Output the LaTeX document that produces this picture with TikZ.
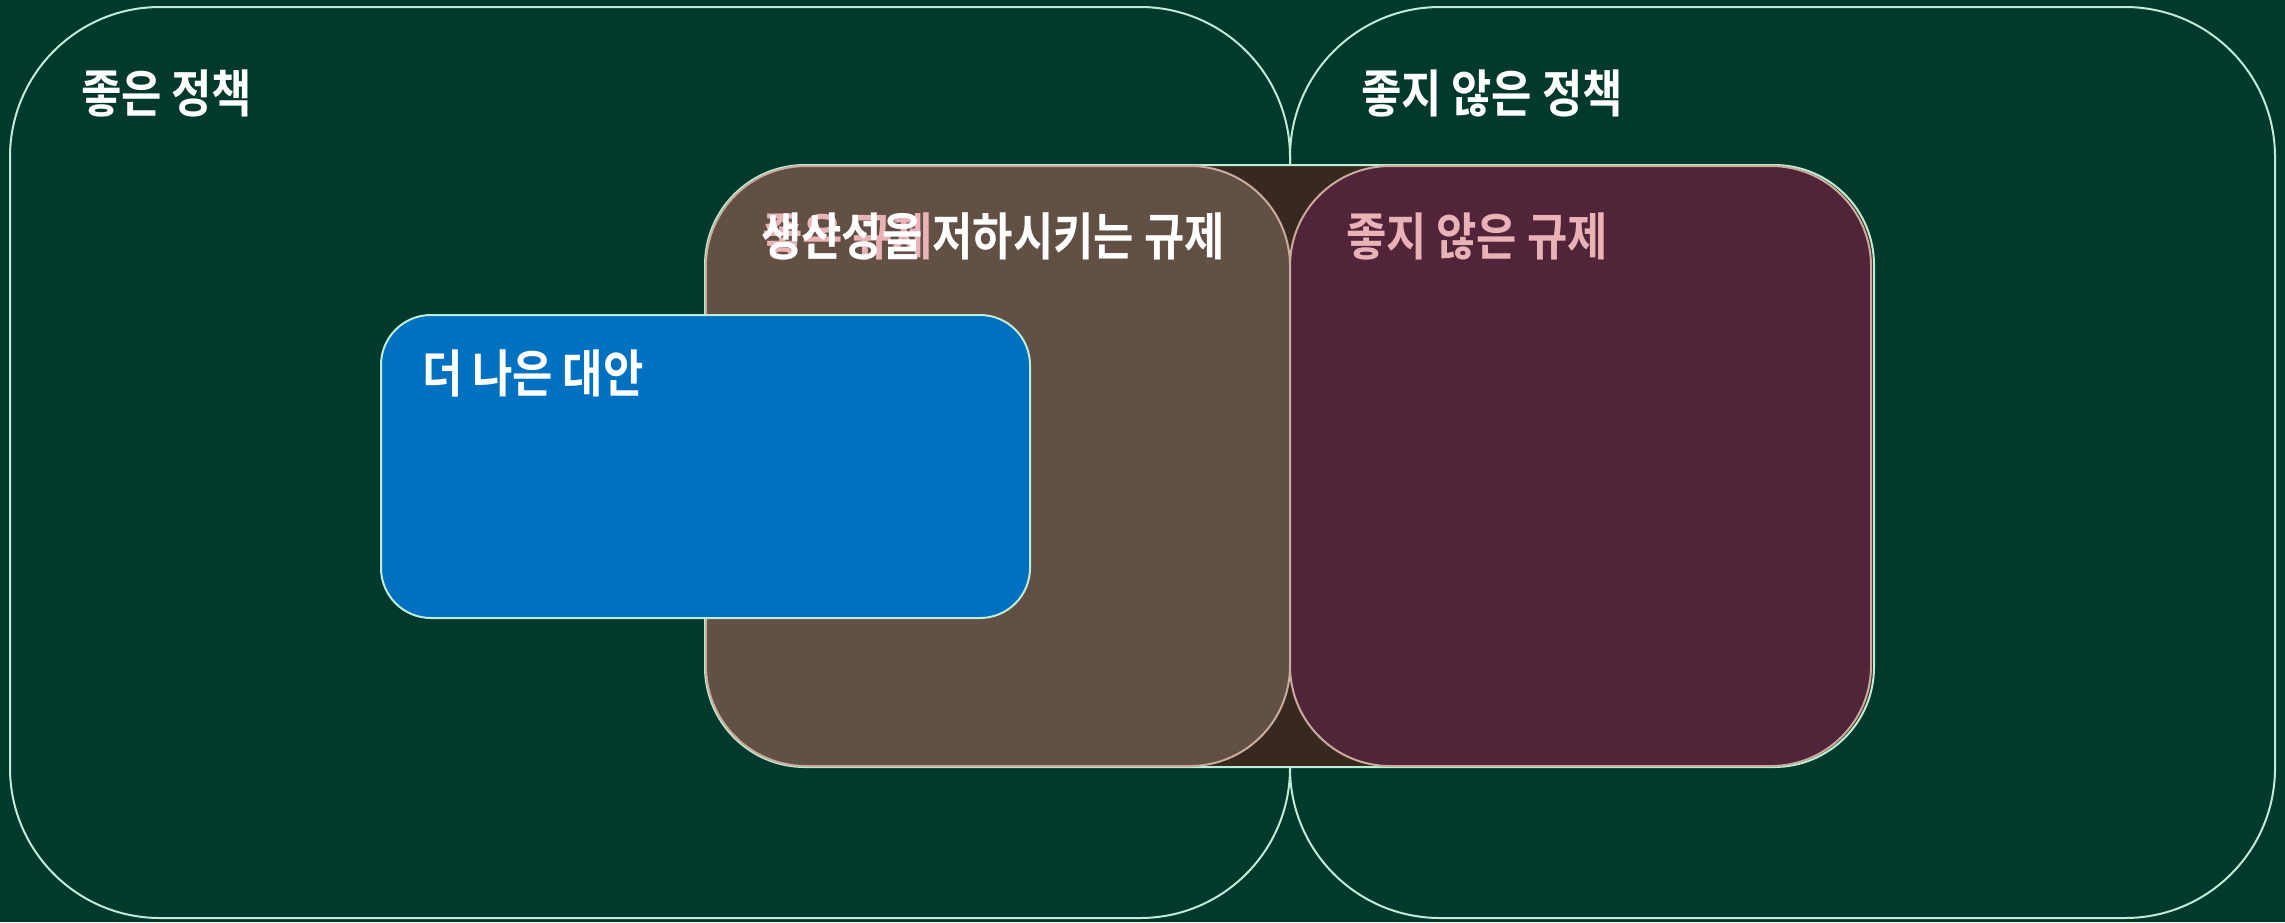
\documentclass[tikz,border=0pt]{standalone}
\usepackage{fontspec}
\newfontfamily\kr[FakeStretch=0.86,BoldFont={Noto Sans CJK KR Bold}]{Noto Sans CJK KR}
\definecolor{bg}{RGB}{1,58,45}
\definecolor{mint}{RGB}{190,236,214}
\definecolor{brownfill}{RGB}{99,80,69}
\definecolor{darkbrown}{RGB}{57,40,32}
\definecolor{plum}{RGB}{82,36,58}
\definecolor{tan}{RGB}{200,172,156}
\definecolor{bluefill}{RGB}{0,112,192}
\definecolor{pinktext}{RGB}{232,178,182}
\begin{document}
\begin{tikzpicture}[x=0.5pt,y=-0.5pt,
  lbl/.style={anchor=base west,inner sep=0pt,outer sep=0pt,font=\kr\bfseries\fontsize{25.5}{30}\selectfont},
  whitelbl/.style={lbl,text=white},
  pinklbl/.style={lbl,text=pinktext},
  bigset/.style={draw=mint,line width=1pt,rounded corners=75pt},
  subset/.style={draw=tan,line width=1pt,rounded corners=50pt}]
\fill[bg] (0,0) rectangle (2285,922);
\useasboundingbox (0,0) rectangle (2285,922);
% big sets
\draw[bigset] (10,7) rectangle (1290,918);
\draw[bigset] (1290,7) rectangle (2275,918);
% regulations
\draw[fill=darkbrown,draw=mint,line width=1pt,rounded corners=50pt] (705,165) rectangle (1874,767);
\draw[subset,fill=brownfill] (706,166) rectangle (1290,766);
\draw[subset,fill=plum] (1290,166) rectangle (1871,766);
% better alternative
\draw[fill=bluefill,draw=mint,line width=1pt,rounded corners=25pt] (381,315) rectangle (1030,618);
% labels
\node[whitelbl] (good) at (81,112) {좋은 정책};
\node[whitelbl] (notgood) at (1361,112) {좋지 않은 정책};
\node[pinklbl] (goodreg) at (762,255) {좋은 규제};
\node[whitelbl] (prodreg) at (761,255) {생산성을 저하시키는 규제};
\node[pinklbl] (badreg) at (1346,255) {좋지 않은 규제};
\node[whitelbl] (alt) at (422,392) {더 나은 대안};
\end{tikzpicture}
\end{document}
